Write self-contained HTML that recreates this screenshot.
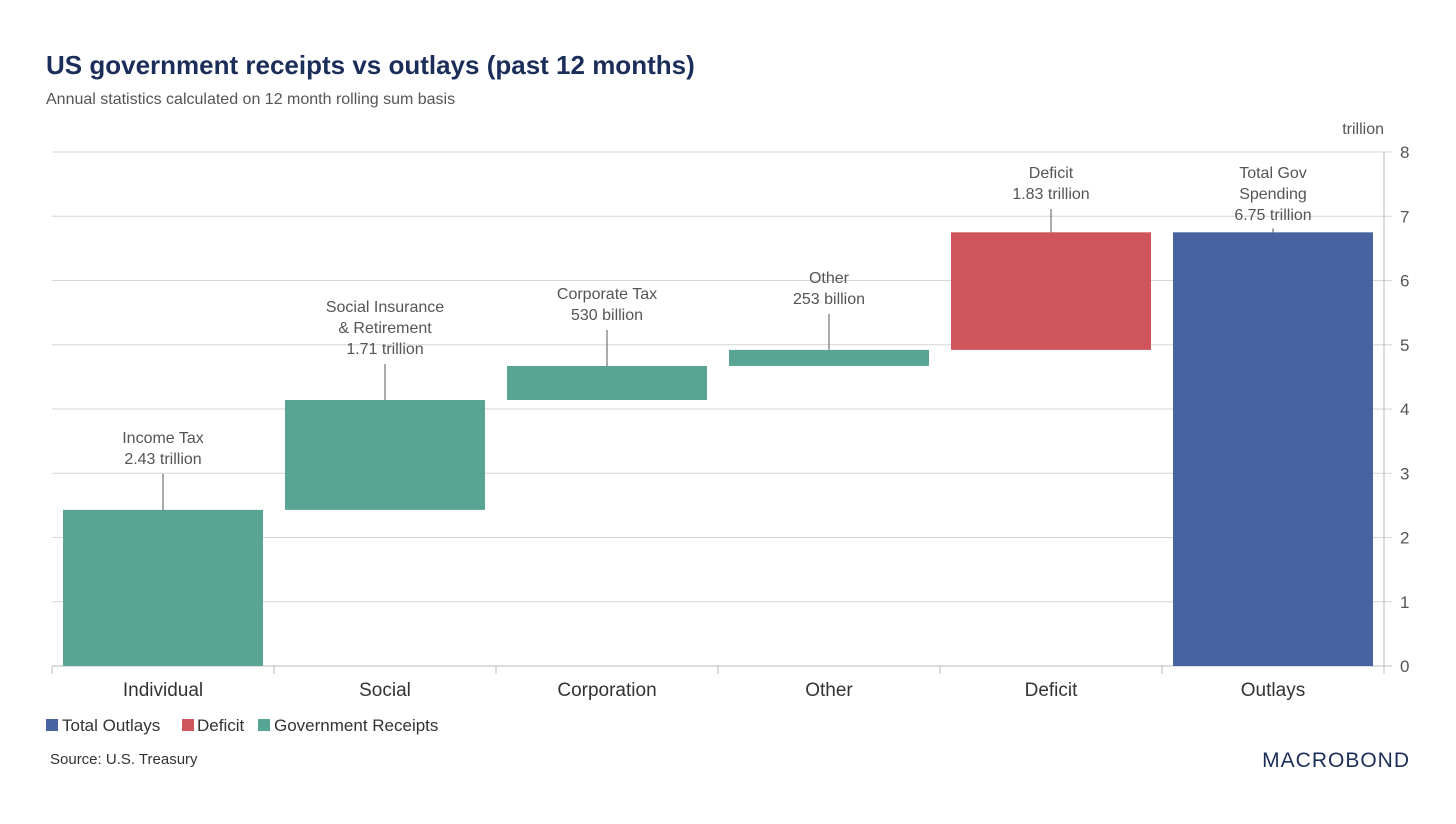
<!DOCTYPE html>
<html><head><meta charset="utf-8"><style>
body{margin:0;background:#fff;width:1456px;height:819px;overflow:hidden;font-family:"Liberation Sans",sans-serif}
</style></head><body>
<svg id="chart" width="1456" height="819" xmlns="http://www.w3.org/2000/svg">
<text x="46" y="74" font-size="26" font-weight="bold" fill="#1b2e5a">US government receipts vs outlays (past 12 months)</text>
<text x="46" y="104" font-size="16" fill="#555">Annual statistics calculated on 12 month rolling sum basis</text>
<text x="1384" y="134" font-size="16" fill="#555" text-anchor="end">trillion</text>
<g id="grid"></g><g id="bars"></g><g id="labels"></g>
<g>
<rect x="46" y="719" width="12" height="12" fill="#4863a0"/>
<text x="62" y="731" font-size="17" fill="#333">Total Outlays</text>
<rect x="182" y="719" width="12" height="12" fill="#cd555b"/>
<text x="197" y="731" font-size="17" fill="#333">Deficit</text>
<rect x="258" y="719" width="12" height="12" fill="#58a593"/>
<text x="274" y="731" font-size="17" fill="#333">Government Receipts</text>
</g>
<text x="50" y="764" font-size="15" fill="#333">Source: U.S. Treasury</text>
<text x="1410" y="767" font-size="21" fill="#1b2e5a" text-anchor="end" letter-spacing="1">MACROBOND</text>
</svg>
<script>
const categories=["Individual","Social","Corporation","Other","Deficit","Outlays"];
const bases=[0,2.43,4.14,4.67,4.92,0];
const tops=[2.43,4.14,4.67,4.92,6.75,6.75];
const kinds=["r","r","r","r","d","o"];
const annotations=[["Income Tax","2.43 trillion"],["Social Insurance","& Retirement","1.71 trillion"],["Corporate Tax","530 billion"],["Other","253 billion"],["Deficit","1.83 trillion"],["Total Gov","Spending","6.75 trillion"]];
const yTicks=[0,1,2,3,4,5,6,7,8];
const NS="http://www.w3.org/2000/svg";
const X0=52,X1=1384,Y0=666,Y8=152;
const y=v=>Y0-(v/8)*(Y0-Y8);
const bw=(X1-X0)/categories.length;
const colors={r:"#58a593",d:"#cd555b",o:"#4863a0"};
function mk(t,a,p){const e=document.createElementNS(NS,t);for(const k in a)e.setAttribute(k,a[k]);p.appendChild(e);return e;}
const grid=document.getElementById("grid"),bars=document.getElementById("bars"),labels=document.getElementById("labels");
yTicks.forEach(t=>{
 const l=mk("line",{x1:X0,x2:1392,y1:y(t),y2:y(t),stroke:t===0?"#bbb":"#d6d6d6","stroke-width":1},grid);
 
 
 const tx=mk("text",{x:1400,y:y(t)+6,"font-size":17,fill:"#555"},grid);tx.textContent=t;
 
 
});
const ax=mk("line",{x1:X1,x2:X1,y1:Y8,y2:Y0,stroke:"#bbb"},grid);


for(let i=0;i<=categories.length;i++){
 const tk=mk("line",{x1:X0+i*bw,x2:X0+i*bw,y1:Y0,y2:Y0+8,stroke:"#bbb"},grid);
 
 
}
categories.forEach((c,i)=>{
 const cx=X0+bw*(i+0.5);
 const r=mk("rect",{x:X0+i*bw+11,y:y(tops[i]),width:bw-22,height:y(bases[i])-y(tops[i]),fill:colors[kinds[i]]},bars);
 
 
 const xl=mk("text",{x:cx,y:696,"font-size":19,fill:"#333","text-anchor":"middle"},labels);xl.textContent=c;
 
 
 const top=y(tops[i]);
 const a=annotations[i];
 let lastBase=top-46;
 const firstBase=Math.max(lastBase-(a.length-1)*21,178);
 lastBase=firstBase+(a.length-1)*21;
 const ln=mk("line",{x1:cx,x2:cx,y1:top,y2:Math.min(lastBase+10,top-4),stroke:"#555"},labels);
 
 
 a.forEach((s,j)=>{
  const t=mk("text",{x:cx,y:firstBase+j*21,"font-size":16,fill:"#555","text-anchor":"middle"},labels);t.textContent=s;
  
  
 });
});
</script>
</body></html>
